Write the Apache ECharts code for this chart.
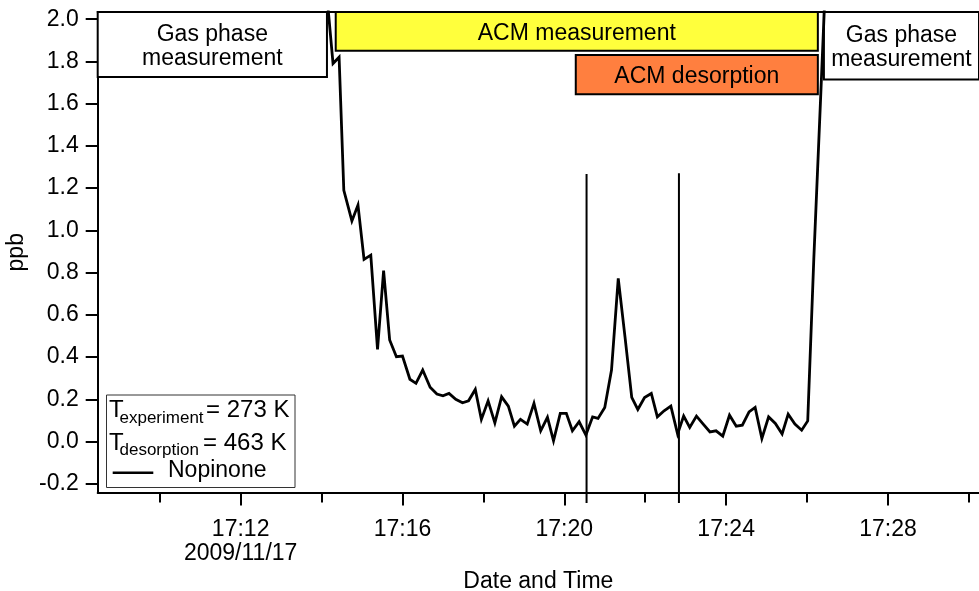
<!DOCTYPE html>
<html>
<head>
<meta charset="utf-8">
<script src="https://cdn.jsdelivr.net/npm/echarts@6/dist/echarts.min.js"></script>
<style>
html,body{margin:0;padding:0;background:#fff;}
#chart{width:979px;height:591px;}
</style>
</head>
<body>
<div id="chart"></div>
<script>
// ---- data ----
const sampleTimes = ['17:14:08','17:14:17','17:14:26','17:14:33','17:14:45','17:14:54','17:15:03','17:15:13','17:15:23','17:15:32',
'17:15:41','17:15:51','17:16:00','17:16:11','17:16:20','17:16:30','17:16:41','17:16:51','17:17:00','17:17:09',
'17:17:19','17:17:29','17:17:38','17:17:48','17:17:57','17:18:07','17:18:17','17:18:27','17:18:37','17:18:46',
'17:18:55','17:19:05','17:19:15','17:19:25','17:19:35','17:19:44','17:19:54','17:20:03','17:20:12','17:20:22',
'17:20:32','17:20:42','17:20:50','17:21:00','17:21:10','17:21:20','17:21:30','17:21:40','17:21:49','17:21:59',
'17:22:09','17:22:18','17:22:28','17:22:38','17:22:48','17:22:57','17:23:06','17:23:16','17:23:26','17:23:36',
'17:23:45','17:23:55','17:24:05','17:24:15','17:24:24','17:24:34','17:24:43','17:24:53','17:25:03','17:25:13',
'17:25:23','17:25:32','17:25:42','17:25:52','17:26:01','17:26:10','17:26:20','17:26:30'];
const nopinone = [2.11,1.79,1.82,1.19,1.045,1.12,0.863,0.883,0.437,0.809,
0.481,0.402,0.405,0.295,0.276,0.339,0.257,0.225,0.217,0.228,
0.200,0.184,0.193,0.247,0.105,0.193,0.089,0.212,0.168,0.073,
0.105,0.083,0.181,0.051,0.115,0.004,0.134,0.134,0.051,0.094,
0.031,0.117,0.110,0.162,0.339,0.773,0.496,0.209,0.152,0.209,
0.228,0.117,0.146,0.168,0.036,0.121,0.067,0.121,0.083,0.046,
0.051,0.026,0.125,0.073,0.078,0.141,0.162,0.015,0.117,0.086,
0.036,0.130,0.083,0.054,0.098,0.864,1.618,2.384];

const seriesName = 'Nopinone';
const tempLines = [['experiment','= 273 K'],['desorption','= 463 K']];

// vertical marker lines (valve switching)
const markerTimes = ['17:20:33','17:22:50'];
const markerLow = -0.291;
const markerHigh = [1.267, 1.27];

// annotation boxes
const boxNames  = ['Gas phase\nmeasurement','ACM measurement','ACM desorption','Gas phase\nmeasurement'];
const boxStart  = ['17:08:28','17:14:21','17:20:17','17:26:25'];
const boxEnd    = ['17:14:08','17:26:16','17:26:16','17:30:32'];
const boxLow    = [1.726, 1.851, 1.645, 1.714];
const boxHigh   = [2.034, 2.034, 1.830, 2.034];

// axes
const xMin = '17:08:28', xMax = '17:30:15';
const yMin = -0.241, yMax = 2.034;
const yTicks = [-0.2,0.0,0.2,0.4,0.6,0.8,1.0,1.2,1.4,1.6,1.8,2.0];
const xLabeledTicks = ['17:12','17:16','17:20','17:24','17:28'];
const xShortTicks = ['17:10','17:14','17:18','17:22','17:26','17:30'];
const dateTick = '17:12', dateText = '2009/11/17';
const xTitle = 'Date and Time', yTitle = 'ppb';

// ---- helpers ----
function ts(s){
  const p = s.split(':').map(Number);
  return Date.UTC(2009, 10, 17, p[0], p[1], p[2] || 0);
}
function hm(v){
  const d = new Date(v);
  const h = String(d.getUTCHours()).padStart(2,'0');
  const m = String(d.getUTCMinutes()).padStart(2,'0');
  return h + ':' + m;
}
const FONT = 'Liberation Sans, Arial, Helvetica, sans-serif';
const boxColors = ['#ffffff','#ffff3c','#ff7f3f','#ffffff'];

const lineData = sampleTimes.map((t,i)=>[ts(t), nopinone[i]]);

const markAreaData = boxNames.map((n,i)=>[
  {name:n, xAxis: ts(boxStart[i]), yAxis: boxHigh[i],
   itemStyle:{color: boxColors[i], borderColor:'#000', borderWidth:2, opacity:1}},
  {xAxis: ts(boxEnd[i]), yAxis: boxLow[i]}
]);

const markerSeries = markerTimes.map((t,i)=>({
  type:'line', xAxisIndex:0, yAxisIndex:0, silent:true, clip:false,
  symbol:'none', animation:false,
  lineStyle:{color:'#000', width:2},
  data:[[ts(t), markerLow],[ts(t), markerHigh[i]]],
  z:3
}));

const chart = echarts.init(document.getElementById('chart'), null, {renderer:'canvas'});

const common = {fontFamily: FONT, color:'#000'};

const option = {
  animation:false,
  backgroundColor:'#fff',
  textStyle:{fontFamily: FONT},
  grid:{left:97.7, right:0, top:12, bottom:98.5, containLabel:false, outerBoundsMode:'none'},
  xAxis:[
    {
      type:'value', min: ts(xMin), max: ts(xMax), position:'bottom',
      name: xTitle, nameLocation:'middle', nameGap:75,
      nameTextStyle:{fontSize:23, ...common},
      axisLine:{show:true, onZero:false, lineStyle:{color:'#000', width:2}},
      axisTick:{show:true, inside:false, length:13, lineStyle:{color:'#000', width:2},
        customValues: xLabeledTicks.map(ts)},
      axisLabel:{show:true, margin:25, fontSize:23, lineHeight:24, ...common,
        customValues: xLabeledTicks.map(ts),
        formatter:(v)=>{ const s = hm(v); return s === dateTick ? s + '\n' + dateText : s; }},
      splitLine:{show:false}
    },
    {
      type:'value', min: ts(xMin), max: ts(xMax), position:'bottom', gridIndex:0,
      axisLine:{show:false, onZero:false},
      axisTick:{show:true, inside:false, length:10, lineStyle:{color:'#000', width:2},
        customValues: xShortTicks.map(ts)},
      axisLabel:{show:false},
      splitLine:{show:false}
    },
    {
      type:'value', min: ts(xMin), max: ts(xMax), position:'top', gridIndex:0,
      axisLine:{show:true, onZero:false, lineStyle:{color:'#000', width:2}},
      axisTick:{show:false}, axisLabel:{show:false}, splitLine:{show:false}
    }
  ],
  yAxis:[{
    type:'value', min:yMin, max:yMax,
    name: yTitle, nameLocation:'middle', nameGap:69, nameRotate:90,
    nameTextStyle:{fontSize:23, ...common},
    axisLine:{show:true, onZero:false, lineStyle:{color:'#000', width:2}},
    axisTick:{show:true, inside:false, length:12, lineStyle:{color:'#000', width:2},
      customValues: yTicks},
    axisLabel:{show:true, margin:19, fontSize:23, ...common,
      customValues: yTicks, formatter:(v)=>Number(v).toFixed(1)},
    splitLine:{show:false}
  }],
  series:[
    {
      name: seriesName, type:'line', xAxisIndex:0, yAxisIndex:0,
      data: lineData, symbol:'none', clip:true, z:4,
      lineStyle:{color:'#000', width:2.8, join:'miter'},
      markArea:{
        silent:true,
        label:{show:true, position:'inside', offset:[0,2], fontSize:23, lineHeight:24, ...common},
        data: markAreaData
      }
    },
    ...markerSeries
  ],
  graphic:[
    {type:'rect', shape:{x:106.5, y:395, width:188.5, height:92.5},
     style:{fill:'#fff', stroke:'#333', lineWidth:1}, z:10},
    {type:'text', x:109, y:410.5, style:{text:'T', font:'24px '+FONT, fill:'#000', textVerticalAlign:'middle'}, z:11},
    {type:'text', x:119.5, y:418.5, style:{text:tempLines[0][0], font:'17px '+FONT, fill:'#000', textVerticalAlign:'middle'}, z:11},
    {type:'text', x:206, y:410.5, style:{text:tempLines[0][1], font:'24px '+FONT, fill:'#000', textVerticalAlign:'middle'}, z:11},
    {type:'text', x:109, y:443.2, style:{text:'T', font:'24px '+FONT, fill:'#000', textVerticalAlign:'middle'}, z:11},
    {type:'text', x:119.5, y:450.2, style:{text:tempLines[1][0], font:'17px '+FONT, fill:'#000', textVerticalAlign:'middle'}, z:11},
    {type:'text', x:203, y:443.2, style:{text:tempLines[1][1], font:'24px '+FONT, fill:'#000', textVerticalAlign:'middle'}, z:11},
    {type:'line', shape:{x1:112.7, y1:472.7, x2:153.3, y2:472.7}, style:{stroke:'#000', lineWidth:2.5}, z:11},
    {type:'text', x:168, y:470.5, style:{text:seriesName, font:'23px '+FONT, fill:'#000', textVerticalAlign:'middle'}, z:11}
  ]
};
chart.setOption(option);
</script>
</body>
</html>
